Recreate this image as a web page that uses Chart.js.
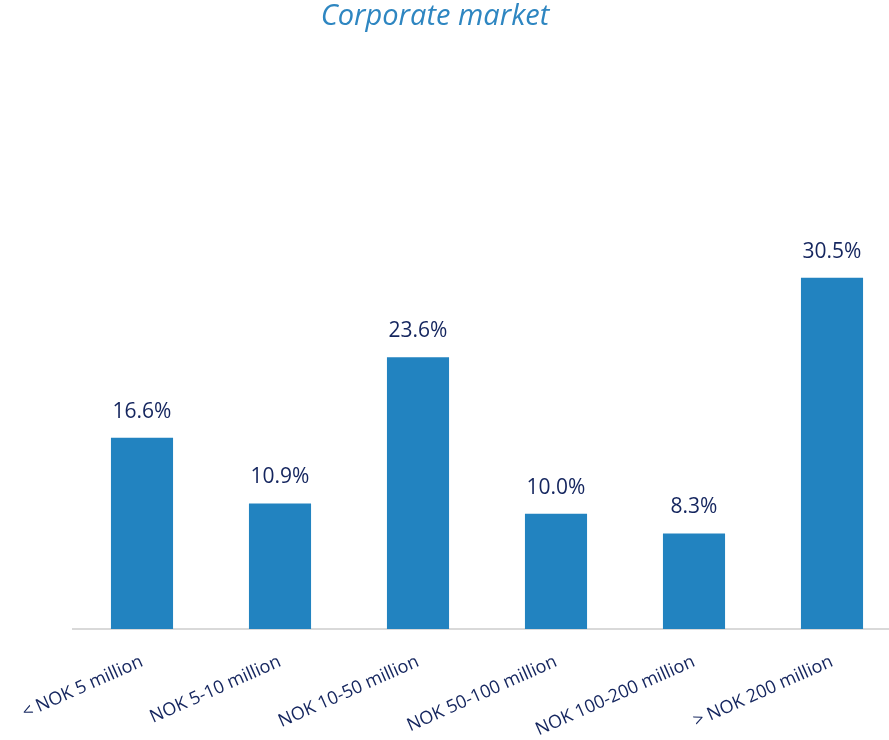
<!DOCTYPE html>
<html>
<head>
<meta charset="utf-8">
<script src="https://cdn.jsdelivr.net/npm/chart.js@4/dist/chart.umd.min.js"></script>
<style>
html, body { margin: 0; padding: 0; background: #fff; overflow: hidden; }
#wrap { width: 905px; height: 740px; }
</style>
</head>
<body>
<div id="wrap"><canvas id="c" width="905" height="740"></canvas></div>
<script>
const chartTitle = 'Corporate market';
const categories = ['< NOK 5 million', 'NOK 5-10 million', 'NOK 10-50 million', 'NOK 50-100 million', 'NOK 100-200 million', '> NOK 200 million'];
const shares = [16.6, 10.9, 23.6, 10.0, 8.3, 30.5];

const FONT = "'Open Sans', 'Lato', sans-serif";
const NAVY = '#14255e';
const BLUE = '#2283c0';

const titlePlugin = {
  id: 'customTitle',
  afterDraw(chart) {
    const ctx = chart.ctx;
    ctx.save();
    ctx.font = "italic 29px " + FONT;
    ctx.fillStyle = '#2e86c1';
    ctx.textAlign = 'center';
    ctx.textBaseline = 'middle';
    ctx.fillText(chartTitle, 435, 17);
    ctx.restore();
  }
};

const labelPlugin = {
  id: 'valueLabels',
  afterDatasetsDraw(chart) {
    const ctx = chart.ctx;
    const meta = chart.getDatasetMeta(0);
    ctx.save();
    ctx.font = "21px " + FONT;
    ctx.fillStyle = NAVY;
    ctx.textAlign = 'center';
    ctx.textBaseline = 'middle';
    meta.data.forEach((bar, i) => {
      ctx.fillText(shares[i].toFixed(1) + '%', bar.x, bar.y - 26);
    });
    ctx.restore();
  }
};

new Chart(document.getElementById('c'), {
  type: 'bar',
  data: {
    labels: categories,
    datasets: [{
      data: shares,
      backgroundColor: BLUE,
      borderWidth: 0,
      barPercentage: 0.9,
      categoryPercentage: 0.5
    }]
  },
  options: {
    responsive: false,
    animation: false,
    devicePixelRatio: 1,
    layout: { padding: { left: 73, right: 4, top: 53, bottom: 0 } },
    plugins: { legend: { display: false }, tooltip: { enabled: false }, title: { display: false } },
    scales: {
      y: { display: false, min: 0, max: 50 },
      x: {
        afterFit(scale) { scale.height = 111; scale.paddingLeft = 0; scale.paddingRight = 0; },
        grid: { display: false, drawTicks: false },
        border: { display: true, color: '#d9d9d9', width: 2 },
        ticks: {
          color: NAVY,
          font: { family: FONT, size: 18 },
          minRotation: 24,
          maxRotation: 24,
          padding: 22,
          autoSkip: false
        }
      }
    }
  },
  plugins: [titlePlugin, labelPlugin]
});
</script>
</body>
</html>
